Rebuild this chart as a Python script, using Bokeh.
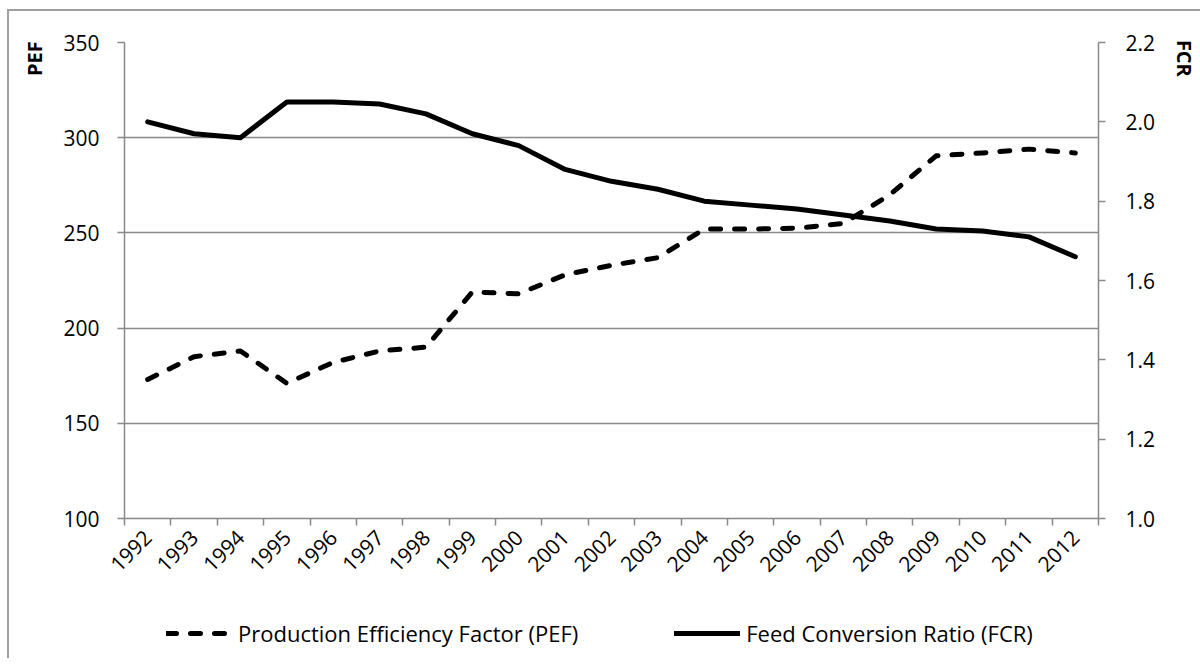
import math
from bokeh.plotting import figure
from bokeh.layouts import column
from bokeh.models import (Range1d, LinearAxis, FixedTicker, PrintfTickFormatter,
                          Legend, LegendItem)
from bokeh.embed import file_html
from bokeh.resources import INLINE

years = [str(y) for y in range(1992, 2013)]
pef = [173, 185, 188, 171, 182, 188, 190, 219, 218, 228, 233, 237,
       252, 252, 252.5, 255, 270, 290.5, 292, 294, 292]
fcr = [2.00, 1.97, 1.96, 2.05, 2.05, 2.045, 2.02, 1.97, 1.94, 1.88, 1.85, 1.83,
       1.80, 1.79, 1.78, 1.765, 1.75, 1.73, 1.725, 1.71, 1.66]
pef_ticks = [100, 150, 200, 250, 300, 350]
fcr_ticks = [1.0, 1.2, 1.4, 1.6, 1.8, 2.0, 2.2]
pef_label = "Production Efficiency Factor (PEF)"
fcr_label = "Feed Conversion Ratio (FCR)"
pef_title = "PEF"
fcr_title = "FCR"

FONT = "Open Sans"
GRAY = "#898989"
FS = "21px"

idx = list(range(len(years)))

FRAME_W, FRAME_H = 974, 476
BORDER_L, BORDER_R = 115, 100
p = figure(frame_width=FRAME_W, frame_height=FRAME_H, output_backend="svg",
           toolbar_location=None,
           x_range=Range1d(-0.5, len(years) - 0.5),
           y_range=Range1d(pef_ticks[0], pef_ticks[-1]),
           min_border_left=BORDER_L, min_border_right=BORDER_R, min_border_top=31,
           min_border_bottom=82)
p.outline_line_color = None
p.extra_y_ranges = {"fcr": Range1d(fcr_ticks[0], fcr_ticks[-1])}


def style_axis(ax):
    ax.minor_tick_line_color = None
    ax.major_tick_in = 0
    ax.major_tick_out = 7
    ax.major_tick_line_color = GRAY
    ax.major_tick_line_width = 1.5
    ax.axis_line_color = GRAY
    ax.axis_line_width = 1.5
    ax.major_label_text_font = FONT
    ax.major_label_text_font_size = FS
    ax.major_label_text_color = "black"


def title_axis(ax):
    ax.major_tick_line_color = None
    ax.minor_tick_line_color = None
    ax.axis_line_color = None
    ax.major_label_orientation = "vertical"
    ax.major_label_text_font = FONT
    ax.major_label_text_font_size = "20px"
    ax.major_label_text_font_style = "bold"
    ax.major_label_text_color = "black"


# x axis
xa = p.xaxis[0]
style_axis(xa)
xa.ticker = FixedTicker(ticks=idx, minor_ticks=[i - 0.5 for i in range(len(years) + 1)])
xa.major_label_overrides = {i: y for i, y in zip(idx, years)}
xa.major_tick_line_color = None
xa.minor_tick_in = 0
xa.minor_tick_out = 7
xa.minor_tick_line_color = GRAY
xa.minor_tick_line_width = 1.5
xa.major_label_orientation = math.pi / 4
xa.major_label_standoff = 8

# left axis
ya = p.yaxis[0]
style_axis(ya)
ya.ticker = FixedTicker(ticks=pef_ticks)
ya.major_label_standoff = 18

# left "PEF" title placed as a tick label near the top of the axis
pef_title_pos = 341.5
ta = LinearAxis(ticker=FixedTicker(ticks=[pef_title_pos]),
                major_label_overrides={pef_title_pos: pef_title})
title_axis(ta)
ta.major_label_standoff = 6
p.add_layout(ta, "left")

# right axis
ra = LinearAxis(y_range_name="fcr", ticker=FixedTicker(ticks=fcr_ticks),
                formatter=PrintfTickFormatter(format="%.1f"))
style_axis(ra)
ra.major_label_standoff = 20
p.add_layout(ra, "right")

fcr_title_pos = 2.16
tr = LinearAxis(y_range_name="fcr", ticker=FixedTicker(ticks=[fcr_title_pos]),
                major_label_overrides={fcr_title_pos: fcr_title})
title_axis(tr)
tr.major_label_standoff = 6
p.add_layout(tr, "right")

p.xgrid.grid_line_color = None
p.ygrid.ticker = FixedTicker(ticks=pef_ticks)
p.ygrid.grid_line_color = GRAY
p.ygrid.grid_line_width = 1.5

pef_style = dict(line_color="black", line_width=5, line_dash="10 14",
                 line_cap="round", line_join="round")
fcr_style = dict(line_color="black", line_width=5, line_cap="round", line_join="round")

p.line(idx, pef, **pef_style)
p.line(idx, fcr, y_range_name="fcr", **fcr_style)

# legend strip below the chart (its frame is aligned with the chart's frame)
LEG_H = 58
q = figure(width=BORDER_L + FRAME_W + BORDER_R, height=LEG_H, output_backend="svg",
           toolbar_location=None, min_border=0, x_axis_type=None, y_axis_type=None,
           x_range=Range1d(0, 1), y_range=Range1d(0, 1))
q.outline_line_color = None
q.xgrid.grid_line_color = None
q.ygrid.grid_line_color = None
# legend-key renderers kept outside the visible range (only their styles are shown)
lr_pef = q.line([-2, -1], [-2, -1], **pef_style)
lr_fcr = q.line([-2, -1], [-2, -1], **fcr_style)

legend = Legend(items=[LegendItem(label=pef_label, renderers=[lr_pef]),
                       LegendItem(label=fcr_label, renderers=[lr_fcr])],
                orientation="horizontal", location=(42, 10),
                glyph_width=66, glyph_height=20, label_standoff=6, spacing=96,
                label_text_font=FONT, label_text_font_size="22px",
                label_text_color="black", border_line_color=None,
                background_fill_alpha=0, margin=0, padding=4)
q.add_layout(legend, "center")

layout = column(p, q, spacing=0)
layout.styles = {"border-left": "2px solid #a0a0a0", "border-top": "2px solid #a0a0a0",
                 "margin": "9px 0px 0px 7px"}

open("out.html", "w").write(file_html(layout, INLINE))
